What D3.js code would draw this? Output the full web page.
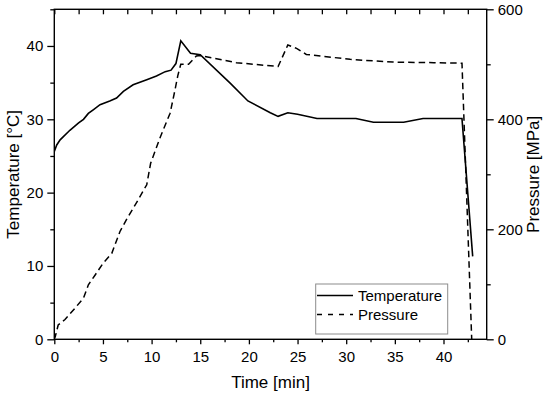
<!DOCTYPE html>
<html>
<head>
<meta charset="utf-8">
<script src="https://cdn.jsdelivr.net/npm/d3@7"></script>
<style>
  html, body { margin: 0; padding: 0; background: #fff; }
  svg { display: block; font-family: "Liberation Sans", Arial, sans-serif; }
</style>
</head>
<body>
<svg id="chart" width="550" height="397"></svg>
<script>
// ---- data ----
const tempTime = [0, 0.25, 0.6, 1.6, 2.5, 3.0, 3.5, 4.0, 4.7, 5.7, 6.4, 7.1, 8.1, 9.5, 10.5, 11.4, 12.0, 12.5, 13.0, 14.0, 15.0, 18.1, 19.9, 22.2, 23.0, 24.0, 25.0, 27.0, 31.0, 32.8, 35.9, 37.9, 41.9, 43.0];
const tempValues = [25.6, 26.5, 27.2, 28.5, 29.5, 30.0, 30.8, 31.3, 32.0, 32.5, 32.9, 33.8, 34.7, 35.4, 35.9, 36.5, 36.7, 37.6, 40.7, 39.0, 38.8, 34.9, 32.5, 30.9, 30.4, 30.9, 30.7, 30.1, 30.1, 29.6, 29.6, 30.1, 30.1, 11.3];

const presTime = [0, 0.1, 0.4, 1.1, 2.1, 3.0, 3.5, 4.2, 5.0, 5.9, 6.75, 7.4, 8.5, 9.5, 9.9, 10.9, 11.9, 12.4, 12.7, 13.0, 13.8, 14.6, 15.0, 18.7, 23.0, 24.0, 24.9, 25.9, 30.4, 34.8, 39.0, 41.9, 42.9];
const presValues = [0, 5, 26, 36, 56, 75, 99, 117, 138, 156, 196, 217, 250, 281, 320, 368, 411, 453, 480, 500, 500, 515, 516, 503, 496, 535, 529, 518, 509, 504, 503, 502, 0];

const xTicks = [0, 5, 10, 15, 20, 25, 30, 35, 40];
const xMinorTicks = [2.5, 7.5, 12.5, 17.5, 22.5, 27.5, 32.5, 37.5, 42.5];
const tempTicks = [0, 10, 20, 30, 40];
const tempMinorTicks = [5, 15, 25, 35, 45];
const presTicks = [0, 200, 400, 600];
const presMinorTicks = [100, 300, 500];

const seriesNames = ["Temperature", "Pressure"];

// ---- layout ----
const L = 54.3, R = 486.7, T = 9.3, B = 339.3;
const svg = d3.select("#chart");

const x = d3.scaleLinear().domain([0, 44.44]).range([L, R]);
const yT = d3.scaleLinear().domain([0, 45]).range([B, T]);
const yP = d3.scaleLinear().domain([0, 600]).range([B, T]);

const axisColor = "#000";
const fontSize = 15;
const titleSize = 17;

// frame
svg.append("rect").attr("x", L).attr("y", T).attr("width", R - L).attr("height", B - T)
  .attr("fill", "none").attr("stroke", axisColor).attr("stroke-width", 1.4);

// bottom axis (outward ticks)
svg.append("g").attr("transform", `translate(0,${B})`)
  .call(d3.axisBottom(x).tickValues(xTicks).tickSize(5).tickPadding(7).tickFormat(d3.format("d")));
svg.append("g").attr("transform", `translate(0,${B})`)
  .call(d3.axisBottom(x).tickValues(xMinorTicks).tickSize(3).tickFormat(""));

// top axis (inward ticks, no labels)
svg.append("g").attr("transform", `translate(0,${T})`)
  .call(d3.axisBottom(x).tickValues(xTicks.concat(xMinorTicks)).tickSize(5).tickFormat(""));

// left axis
svg.append("g").attr("transform", `translate(${L},0)`)
  .call(d3.axisLeft(yT).tickValues(tempTicks).tickSize(7).tickPadding(4).tickFormat(d3.format("d")));
svg.append("g").attr("transform", `translate(${L},0)`)
  .call(d3.axisLeft(yT).tickValues(tempMinorTicks).tickSize(4).tickFormat(""));

// right axis
svg.append("g").attr("transform", `translate(${R},0)`)
  .call(d3.axisRight(yP).tickValues(presTicks).tickSize(7).tickPadding(4).tickFormat(d3.format("d")));
svg.append("g").attr("transform", `translate(${R},0)`)
  .call(d3.axisRight(yP).tickValues(presMinorTicks).tickSize(4).tickFormat(""));

svg.selectAll(".domain").remove();
svg.selectAll(".tick line").attr("stroke", axisColor).attr("stroke-width", 1.3);
svg.selectAll(".tick text").attr("fill", "#000").style("font-size", fontSize + "px")
  .style("font-family", '"Liberation Sans", Arial, sans-serif');

// lines
svg.append("clipPath").attr("id", "plotclip").append("rect")
  .attr("x", L).attr("y", T).attr("width", R - L).attr("height", B - T + 1);

const tempData = tempTime.map((t, i) => [t, tempValues[i]]);
const presData = presTime.map((t, i) => [t, presValues[i]]);

const lineT = d3.line().x(d => x(d[0])).y(d => yT(d[1]));
const lineP = d3.line().x(d => x(d[0])).y(d => yP(d[1]));

const plot = svg.append("g").attr("clip-path", "url(#plotclip)");
plot.append("path").datum(presData).attr("d", lineP)
  .attr("fill", "none").attr("stroke", "#000").attr("stroke-width", 1.5)
  .attr("stroke-dasharray", "6.5,4");
plot.append("path").datum(tempData).attr("d", lineT)
  .attr("fill", "none").attr("stroke", "#000").attr("stroke-width", 1.6);

// legend
const lg = svg.append("g");
lg.append("rect").attr("x", 315.7).attr("y", 284).attr("width", 132).attr("height", 50)
  .attr("fill", "#fff").attr("stroke", "#8c8c8c").attr("stroke-width", 1);
const legendRows = [
  { name: seriesNames[0], dash: null, y: 295.5 },
  { name: seriesNames[1], dash: "5,6", y: 314.5 }
];
legendRows.forEach(r => {
  const ln = lg.append("line").attr("x1", 317).attr("x2", 353).attr("y1", r.y).attr("y2", r.y)
    .attr("stroke", "#000").attr("stroke-width", 1.5);
  if (r.dash) ln.attr("stroke-dasharray", r.dash);
  lg.append("text").attr("x", 358).attr("y", r.y + 5.5).attr("font-size", fontSize).text(r.name);
});

// axis titles
svg.append("text").attr("x", (L + R) / 2).attr("y", 388).attr("text-anchor", "middle")
  .attr("font-size", titleSize).text("Time [min]");
svg.append("text").attr("transform", `translate(18.5,${(T + B) / 2}) rotate(-90)`)
  .attr("text-anchor", "middle").attr("font-size", titleSize).text("Temperature [°C]");
svg.append("text").attr("transform", `translate(539,${(T + B) / 2}) rotate(-90)`)
  .attr("text-anchor", "middle").attr("font-size", titleSize).text("Pressure [MPa]");
</script>
</body>
</html>
